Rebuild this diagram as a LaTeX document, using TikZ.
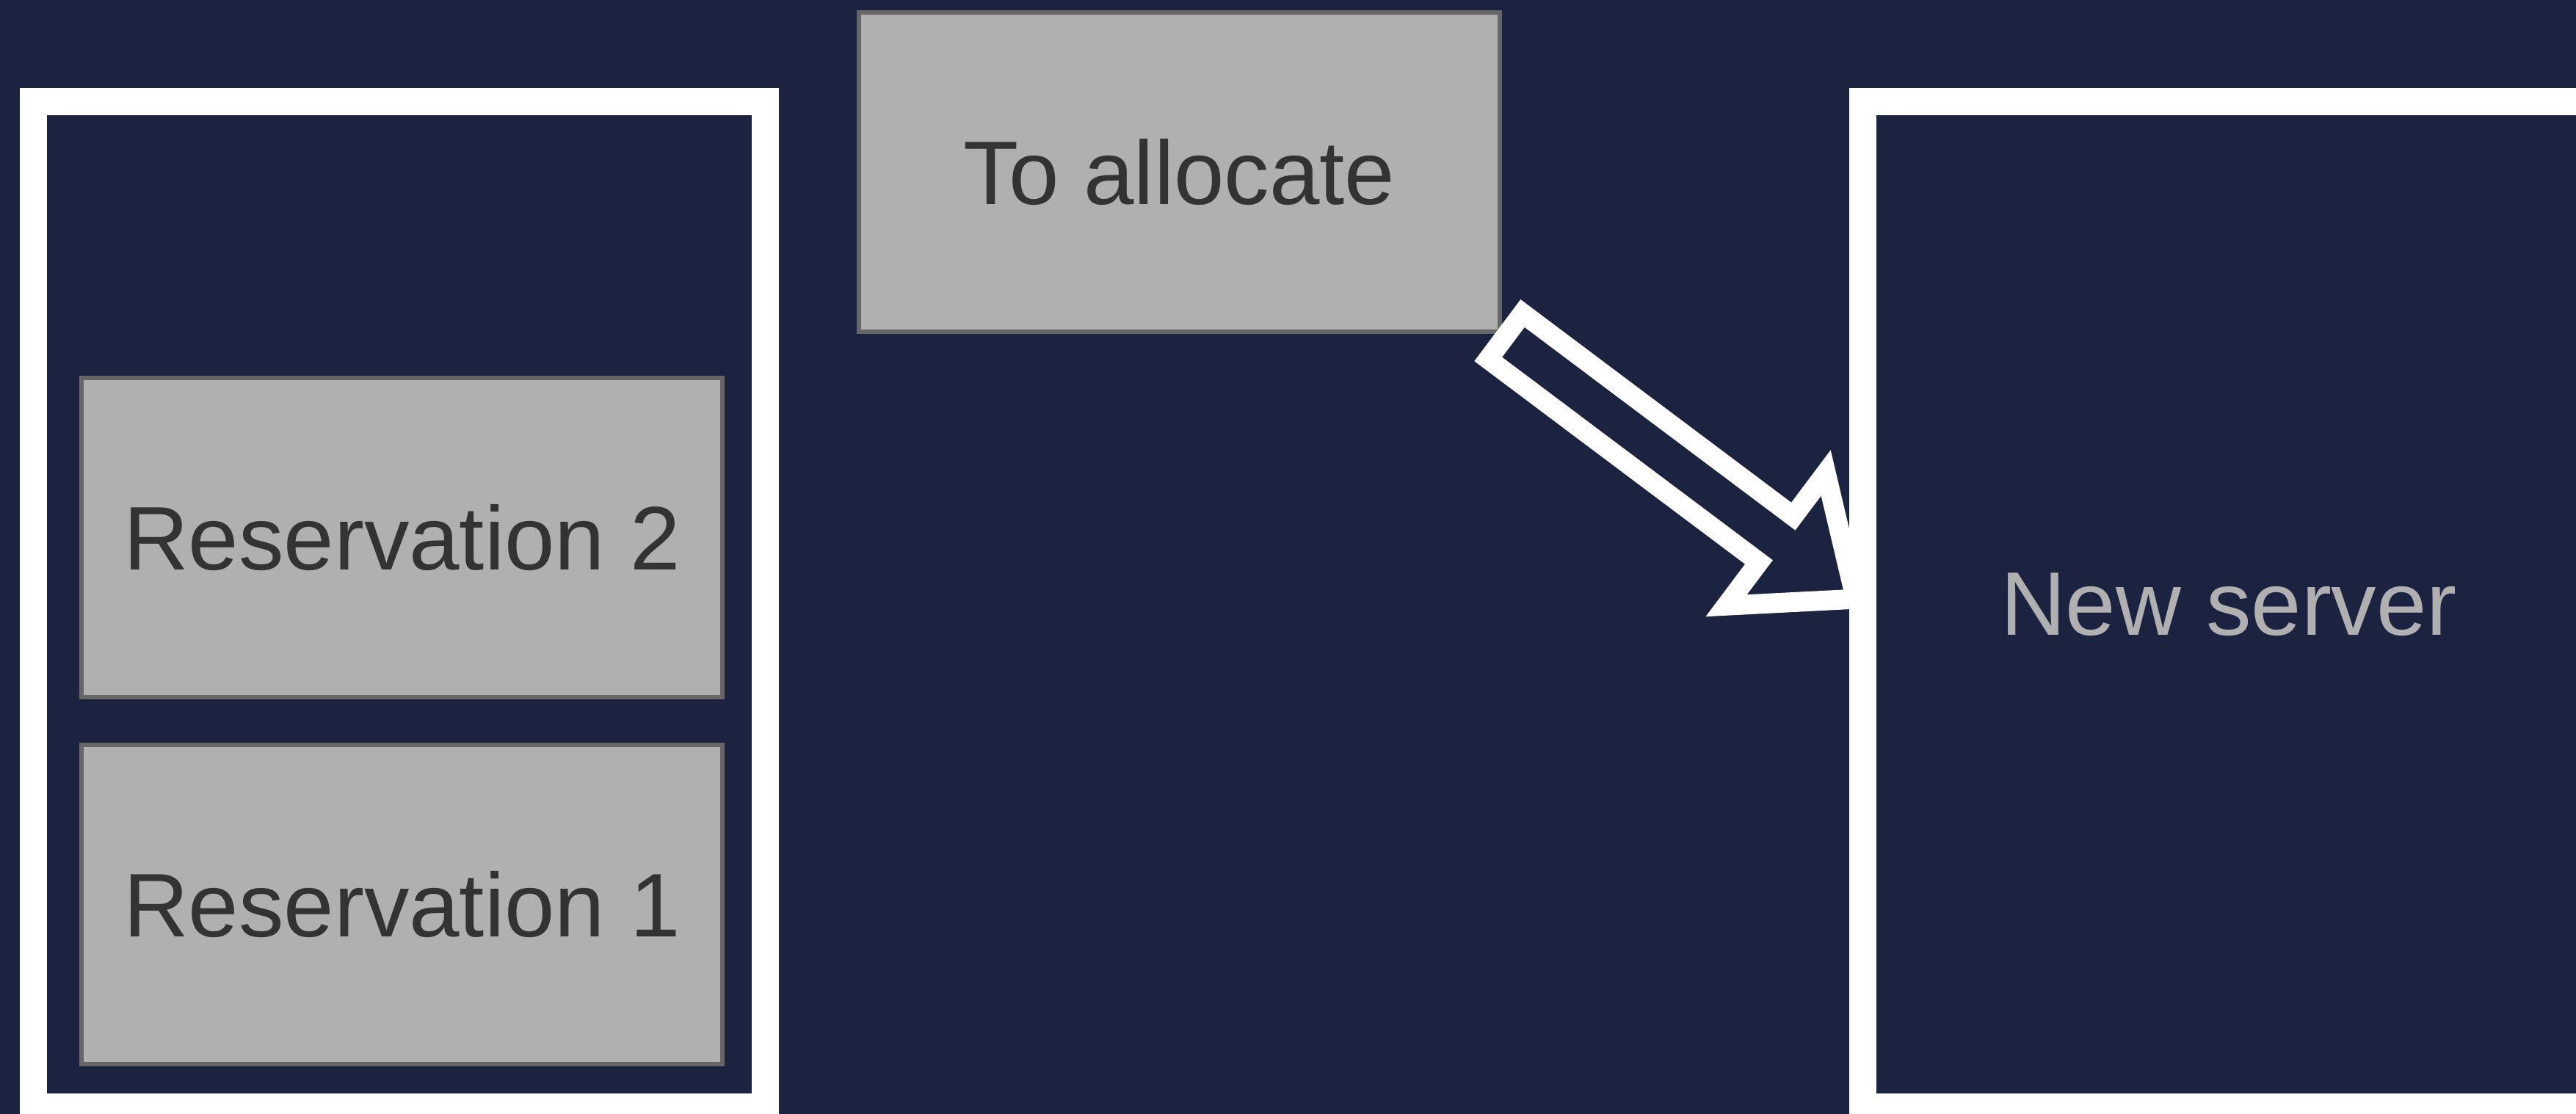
\documentclass[tikz,border=0pt]{standalone}
\usepackage{fontspec}
\setmainfont{Liberation Sans}
\usetikzlibrary{positioning,calc}

\definecolor{slidebg}{HTML}{1B2340}
\definecolor{slotfill}{HTML}{B0B0B0}
\definecolor{slotedge}{HTML}{666666}
\definecolor{slottext}{HTML}{333333}

\tikzset{
  server/.style={draw=white, line width=0.37cm, minimum width=9.97cm, minimum height=13.7cm,
    inner sep=0pt, outer sep=0pt, font=\fontsize{35}{42}\selectfont},
  slot/.style={draw=slotedge, fill=slotfill, line width=0.06cm, minimum width=8.73cm,
    minimum height=4.35cm, inner sep=0pt, outer sep=0pt, text=slottext,
    font=\fontsize{35}{42}\selectfont},
  blockarrow/.style={draw=white, line width=0.27cm, line join=miter}
}

\begin{document}
\begin{tikzpicture}

    % Slide background and page size
    \fill[slidebg] (0,0) rectangle (35.09,15.18);
    \useasboundingbox (0,0) rectangle (35.09,15.18);
    \clip (0,0) rectangle (35.09,15.18);

    % Existing server with two reservations
    \node[server] (pool) at (5.44,6.945) {};
    \node[slot] (res2) at (5.475,7.855) {Reservation 2};
    \node[slot, below=0.65cm of res2] (res1) {Reservation 1};

    % Request that does not fit
    \node[slot] (alloc) at (16.065,12.83) {To allocate};

    % New server
    \node[server, text=slotfill] (srv) at (30.36,6.945) {New server};

    % Block arrow from the request to the new server
    \pgfmathanglebetweenpoints{\pgfpointanchor{alloc}{south east}}{\pgfpointanchor{srv}{west}}
    \let\arrowangle\pgfmathresult
    \begin{scope}[shift={(alloc.south east)}, rotate=\arrowangle]
        \draw[blockarrow] (0.095,0.39) -- (4.705,0.39) -- (4.705,1.13) -- (6.06,0)
            -- (4.705,-1.13) -- (4.705,-0.39) -- (0.095,-0.39) -- cycle;
    \end{scope}

\end{tikzpicture}
\end{document}
